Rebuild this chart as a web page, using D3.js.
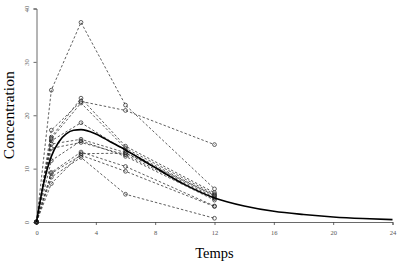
<!DOCTYPE html>
<html>
<head>
<meta charset="utf-8">
<script src="https://cdn.jsdelivr.net/npm/d3@7"></script>
<style>
  body { margin: 0; background: #fff; }
  svg { display: block; }
  .tick text { font-family: "Liberation Serif", serif; fill: #555; }
  .axis path, .axis line { stroke: #444; stroke-width: 0.8; }
</style>
</head>
<body>
<div id="chart"></div>
<script>
// sampling times (h) shared by every subject
const times = [0, 1, 3, 6, 12];

// observed concentrations, one array per subject
const subj1  = [0, 24.7, 37.4, 21.9, 6.2];
const subj2  = [0, 17.2, 22.6, 20.9, 14.5];
const subj3  = [0, 15.9, 23.2, 14.2, 5.5];
const subj4  = [0, 15.6, 22.3, 13.8, 5.2];
const subj5  = [0, 15.2, 18.6, 13.4, 4.9];
const subj6  = [0, 14.6, 15.5, 13.0, 4.6];
const subj7  = [0, 13.8, 14.9, 12.6, 4.4];
const subj8  = [0, 11.5, 15.2, 12.3, 4.1];
const subj9  = [0, 9.3, 13.1, 10.4, 3.0];
const subj10 = [0, 9.1, 12.5, 9.5, 2.9];
const subj11 = [0, 8.4, 12.1, 5.2, 0.7];
const subj12 = [0, 7.2, 12.8, 12.9, 5.0];
const subjects = [subj1, subj2, subj3, subj4, subj5, subj6, subj7, subj8, subj9, subj10, subj11, subj12];

// mean (model) curve
const meanTimes = [0, 0.5, 1, 1.5, 2, 2.5, 3, 4, 5, 6, 8, 10, 12, 14, 16, 18, 20, 22, 24];
const meanConc  = [0, 7.5, 12.3, 15.0, 16.5, 17.2, 17.3, 16.5, 15.0, 13.5, 10.2, 7.0, 4.5, 3.0, 2.0, 1.4, 0.95, 0.65, 0.45];

// tick values
const xTicks = [0, 4, 8, 12, 16, 20, 24];
const yTicks = [0, 10, 20, 30, 40];

const width = 403, height = 261;

const svg = d3.select("#chart").append("svg")
    .attr("width", width)
    .attr("height", height);

const x = d3.scaleLinear().domain([0, 24]).range([36.5, 392.5]);
const y = d3.scaleLinear().domain([0, 40]).range([222, 8.5]);

// -- axes -- //
const xAxis = svg.append("g")
    .attr("class", "axis")
    .attr("transform", "translate(0," + y(0) + ")")
    .call(d3.axisBottom(x).tickValues(xTicks).tickSizeOuter(0).tickSize(3).tickPadding(5));
xAxis.selectAll(".tick text").style("font-size", "6.5px");

const yAxis = svg.append("g")
    .attr("class", "axis")
    .attr("transform", "translate(" + x(0) + ",0)")
    .call(d3.axisLeft(y).tickValues(yTicks).tickSizeOuter(0).tickSize(3));
yAxis.selectAll(".tick text")
    .attr("x", null)
    .attr("dy", null)
    .attr("text-anchor", "middle")
    .attr("transform", "translate(-8,0) rotate(-90)")
    .style("font-size", "6.5px");

// axis titles
svg.append("text")
    .attr("x", (x(0) + x(24)) / 2)
    .attr("y", 258)
    .attr("text-anchor", "middle")
    .style("font-family", "Liberation Serif, serif")
    .style("font-size", "14.5px")
    .text("Temps");

svg.append("text")
    .attr("transform", "translate(14," + (y(0) + y(40)) / 2 + ") rotate(-90)")
    .attr("text-anchor", "middle")
    .style("font-family", "Liberation Serif, serif")
    .style("font-size", "15.5px")
    .text("Concentration");

// -- individual profiles -- //
const line = d3.line()
    .x((d) => x(d[0]))
    .y((d) => y(d[1]));

subjects.forEach((conc) => {
    let pts = times.map((t, i) => [t, conc[i]]);
    svg.append("path")
        .datum(pts)
        .attr("d", line)
        .attr("fill", "none")
        .attr("stroke", "#333")
        .attr("stroke-width", 0.8)
        .attr("stroke-dasharray", "2.5,2");
    svg.selectAll(null)
        .data(pts)
        .enter()
        .append("circle")
        .attr("cx", (d) => x(d[0]))
        .attr("cy", (d) => y(d[1]))
        .attr("r", 1.9)
        .attr("fill", "none")
        .attr("stroke", "#222")
        .attr("stroke-width", 0.7);
});

// -- mean curve -- //
const meanLine = d3.line()
    .x((d) => x(d[0]))
    .y((d) => y(d[1]))
    .curve(d3.curveMonotoneX);

svg.append("path")
    .datum(meanTimes.map((t, i) => [t, meanConc[i]]))
    .attr("d", meanLine)
    .attr("fill", "none")
    .attr("stroke", "#000")
    .attr("stroke-width", 1.6);
</script>
</body>
</html>
